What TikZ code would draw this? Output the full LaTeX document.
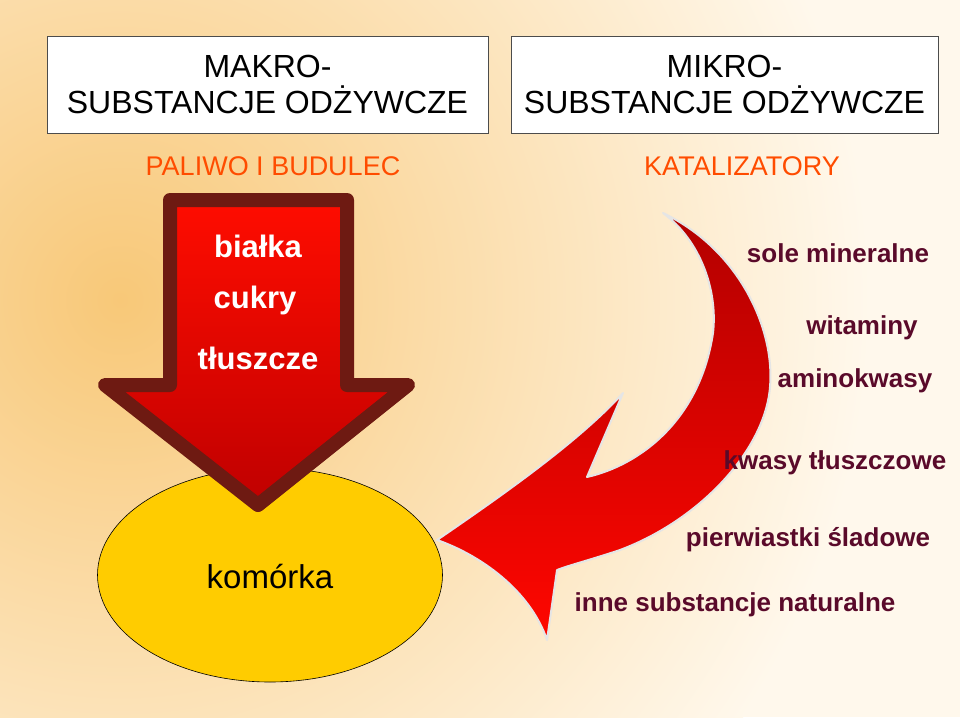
\documentclass[tikz,border=0pt]{standalone}
\usepackage{fontspec}
\setmainfont{Liberation Sans}
\usetikzlibrary{shapes.geometric}
\begin{document}
\begin{tikzpicture}[x=1pt,y=-1pt,
  hdr/.style={draw=black!70,fill=white,line width=0.8pt,minimum width=441pt,minimum height=97pt,align=center,font=\fontsize{32}{36}\selectfont,inner sep=0pt},
  cat/.style={text=orange!60!red,font=\fontsize{27}{30}\selectfont},
  itm/.style={text=white,font=\bfseries\fontsize{31}{34}\selectfont},
  sub/.style={font=\bfseries\fontsize{26}{30}\selectfont,text=mcol}]
\definecolor{mcol}{HTML}{5A0A2A}
\definecolor{maroon}{HTML}{6E1A12}
\definecolor{bgo}{HTML}{F8C878}
\definecolor{bgw}{HTML}{FFF8EC}
\useasboundingbox (0,0) rectangle (960,717);
\begin{scope}
\clip (0,0) rectangle (960,717);
\fill[bgw] (0,0) rectangle (960,717);
\shade[inner color=bgo, outer color=bgw] (120,300) circle (750);
\end{scope}
\node[hdr] (mak) at (267.5,84.5) {MAKRO-\\SUBSTANCJE ODŻYWCZE};
\node[hdr,minimum width=427pt] (mik) at (724.5,84.5) {MIKRO-\\SUBSTANCJE ODŻYWCZE};
\node[cat] (pal) at (273,166) {PALIWO I BUDULEC};
\node[cat] (kat) at (742,166) {KATALIZATORY};
\node[draw=black,fill={rgb,255:red,255;green,204;blue,0},ellipse,minimum width=345pt,minimum height=214pt,inner sep=0pt,line width=0.6pt] (kom) at (270,575) {};
\node[font=\fontsize{33}{36}\selectfont] (komt) at (270,577) {komórka};
\shade[top color=red!90!orange,bottom color=red!75!black,draw=maroon,line width=14pt,line join=round]
 (170,200) -- (347,200) -- (347,385) -- (408,385) -- (258,505) -- (105,385) -- (170,385) -- cycle;
\node[itm] (b) at (258,246) {białka};
\node[itm] (c) at (255,300) {cukry};
\node[itm] (t) at (258,358) {tłuszcze};
\shade[top color=red!70!black,bottom color=red!95!orange,draw=white!80!gray,line width=2pt,line join=round]
 (663,213) .. controls (740,250) and (775,330) .. (770,387)
 .. controls (765,450) and (700,520) .. (620,550)
 .. controls (590,560) and (570,565) .. (557,570)
 -- (547,640) .. controls (530,590) and (480,555) .. (437,540)
 .. controls (510,490) and (580,440) .. (623,393)
 -- (587,477) .. controls (640,465) and (700,420) .. (713,333)
 .. controls (718,290) and (700,240) .. (663,213) -- cycle;
\node[sub] (s1) at (838,253) {sole mineralne};
\node[sub] (s2) at (862,328) {witaminy};
\node[sub] (s3) at (855,381) {aminokwasy};
\node[sub] (s4) at (835,463) {kwasy tłuszczowe};
\node[sub] (s5) at (808,540) {pierwiastki śladowe};
\node[sub] (s6) at (735,605) {inne substancje naturalne};
\end{tikzpicture}
\end{document}
